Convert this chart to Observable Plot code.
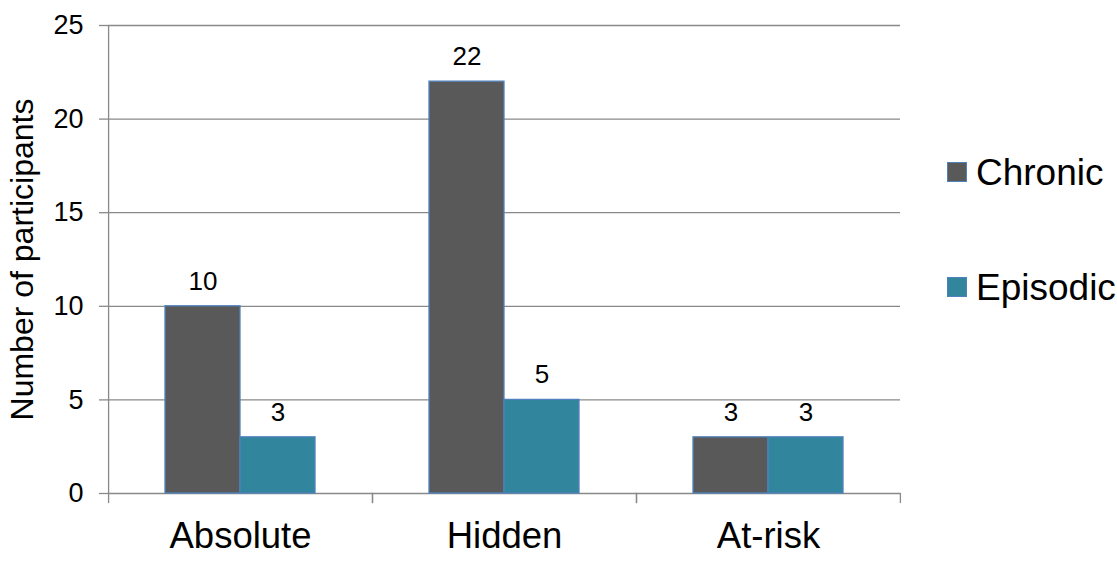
<!DOCTYPE html>
<html>
<head>
<meta charset="utf-8">
<script src="https://cdn.jsdelivr.net/npm/d3@7"></script>
<script src="https://cdn.jsdelivr.net/npm/@observablehq/plot@0.6"></script>
<style>
  html, body { margin: 0; padding: 0; background: #fff; }
  #wrap { position: relative; width: 1117px; height: 566px; font-family: "Liberation Sans", Arial, sans-serif; overflow: hidden; }
  #legend { position: absolute; left: 947px; top: 0; }
  .item { position: absolute; left: 0; display: flex; align-items: center; white-space: nowrap; }
  .sw { width: 18px; height: 18px; border: 1.5px solid #4F81BD; box-sizing: content-box; margin-right: 9px; }
  .lab { font-size: 37px; color: #000; line-height: 1; }
</style>
</head>
<body>
<div id="wrap"><div id="legend"></div></div>
<script>
const categories = ["Absolute", "Hidden", "At-risk"];
const series = ["Chronic", "Episodic"];
const chronic = [10, 22, 3];
const episodic = [3, 5, 3];
const yTicks = [0, 5, 10, 15, 20, 25];
const colors = ["#595959", "#31859C"];

const data = categories.flatMap((c, i) => [
  {category: c, series: "Chronic", value: chronic[i]},
  {category: c, series: "Episodic", value: episodic[i]}
]);

const W = 1117, H = 566, ML = 107, MR = 217, MT = 25, MB = 73;
const facetW = (W - ML - MR) / categories.length;
const step = facetW / 3.5; // 2 bands + 2*0.75 outer padding
const edge = 1.25 * step;
const gray = "#898989";
const lineShape = {draw(ctx, l) { ctx.moveTo(0, 0); ctx.lineTo(0, -l); }};

const chart = Plot.plot({
  width: W, height: H,
  marginTop: MT, marginBottom: MB, marginLeft: ML, marginRight: MR,
  style: {fontFamily: "'Liberation Sans', Arial, sans-serif", background: "white", color: "black"},
  fx: {domain: categories, padding: 0, label: null},
  x: {domain: series, paddingInner: 0, paddingOuter: 0.75, axis: null},
  y: {domain: [0, 25], ticks: yTicks},
  color: {domain: series, range: colors},
  marks: [
    Plot.gridY(yTicks.slice(1), {stroke: gray, strokeOpacity: 1, strokeWidth: 1.3}),
    Plot.ruleY([0], {stroke: gray, strokeWidth: 1.3}),
    Plot.barY(data, {fx: "category", x: "series", y: "value", fill: "series", stroke: "#4F81BD", strokeWidth: 1.3}),
    Plot.text(data, {fx: "category", x: "series", y: "value", text: d => String(d.value), dy: -25, fontSize: 26, fill: "black"}),
    // y axis line (left facet only)
    Plot.ruleX(categories.slice(0, 1), {fx: d => d, x: () => "Chronic", y1: () => 0, y2: () => 25, dx: -edge, stroke: gray, strokeWidth: 1.3}),
    // category boundary ticks
    Plot.vector(categories, {fx: d => d, x: () => "Chronic", y: () => 0, dx: -edge, length: 9, rotate: 180, anchor: "start", shape: lineShape, stroke: gray, strokeWidth: 1.3}),
    Plot.vector(categories, {fx: d => d, x: () => "Episodic", y: () => 0, dx: edge, length: 9, rotate: 180, anchor: "start", shape: lineShape, stroke: gray, strokeWidth: 1.3}),
    Plot.axisY(yTicks, {tickSize: 9, tickPadding: 16, fontSize: 27, stroke: gray, strokeWidth: 1.3, fill: "black", label: null}),
    Plot.axisY({label: "Number of participants", labelAnchor: "center", labelArrow: "none", labelOffset: 98, fontSize: 32, ticks: [], tickSize: 0, fill: "black"}),
    Plot.axisFx({anchor: "bottom", tickSize: 0, tickPadding: 29, fontSize: 36.5, label: null, fill: "black"})
  ]
});
document.getElementById("wrap").prepend(chart);

const legend = document.getElementById("legend");
[[series[0], colors[0], 172], [series[1], colors[1], 287]].forEach(([name, col, cy]) => {
  const it = document.createElement("div");
  it.className = "item";
  it.style.top = (cy - 20) + "px";
  it.style.height = "40px";
  it.innerHTML = `<div class="sw" style="background:${col}"></div><div class="lab">${name}</div>`;
  legend.appendChild(it);
});
</script>
</body>
</html>
